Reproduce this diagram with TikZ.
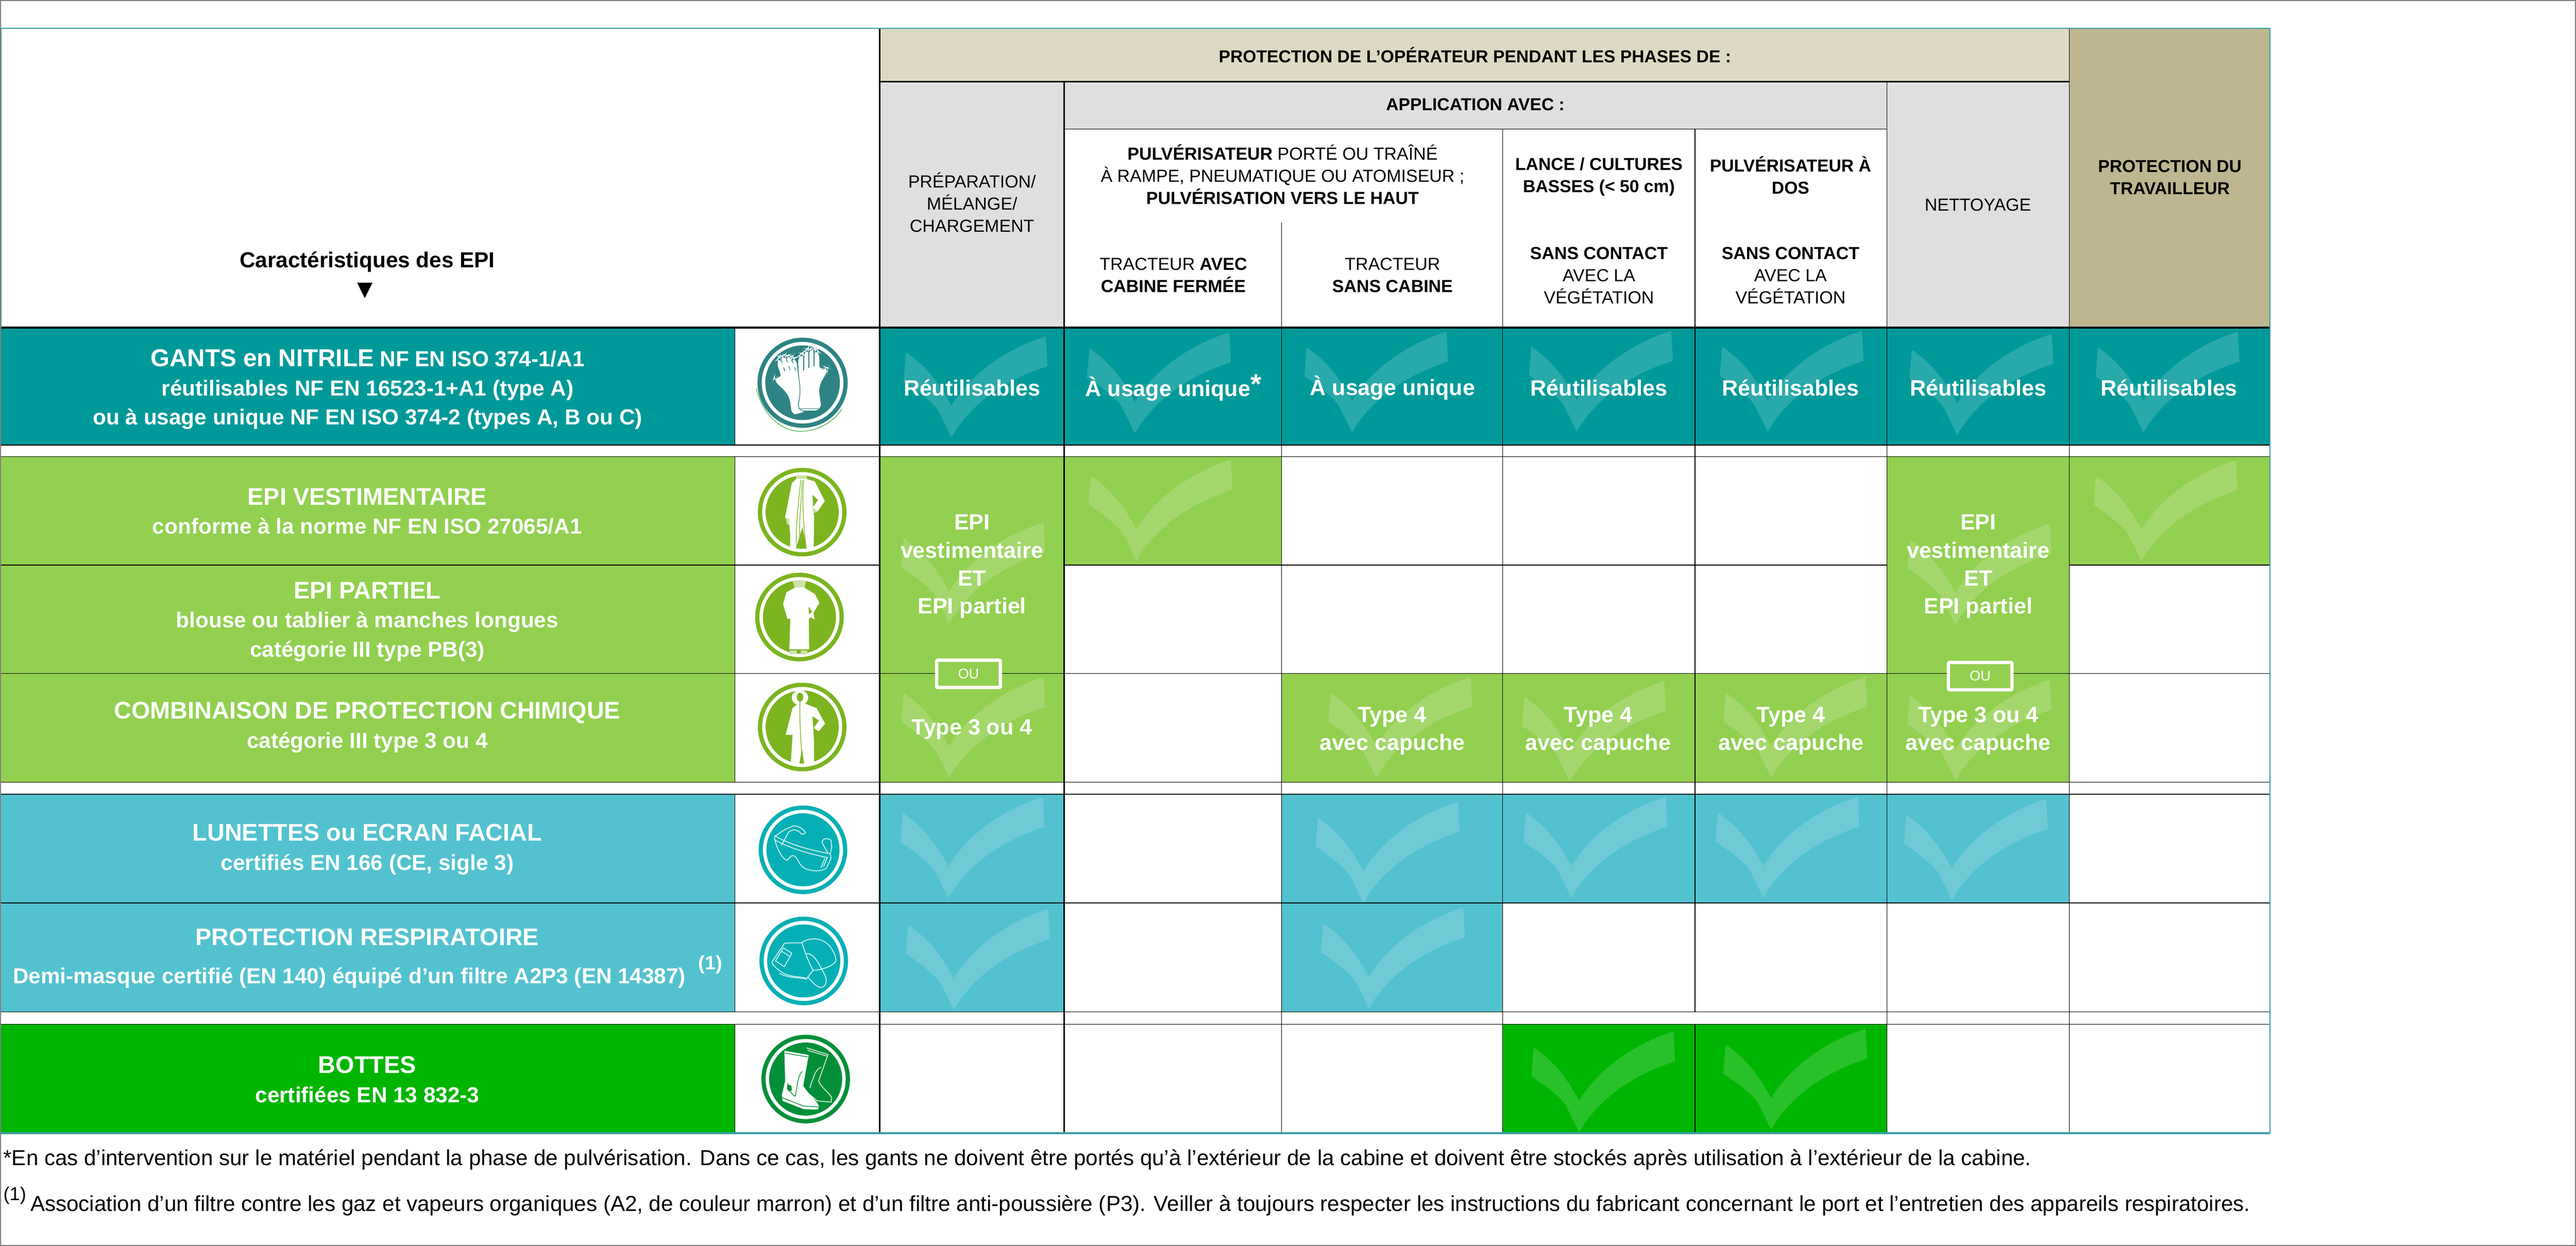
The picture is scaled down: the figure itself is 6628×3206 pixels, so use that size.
\documentclass[tikz,border=0pt]{standalone}
\usepackage{fontspec}
\setmainfont{Liberation Sans}
\newfontfamily\djv{DejaVu Sans}
\newcommand\fz[2]{\fontsize{\the\dimexpr#1pt*2845/10000\relax}{\the\dimexpr#2pt*2845/10000\relax}\selectfont}
\definecolor{cteal}{HTML}{009999}
\definecolor{cgreen}{HTML}{92D050}
\definecolor{cblue}{HTML}{53C2CF}
\definecolor{cboot}{HTML}{00B500}
\definecolor{ctan}{HTML}{DDD9C3}
\definecolor{ckhaki}{HTML}{BDB68F}
\definecolor{cgray}{HTML}{DFDFDF}
\definecolor{cframe}{HTML}{808080}
\definecolor{cedge}{HTML}{3A9FA6}
\definecolor{iteal}{HTML}{2E8384}
\definecolor{igreen}{HTML}{7CB41F}
\definecolor{iblue}{HTML}{04B0B5}
\definecolor{iboot}{HTML}{028F38}
\definecolor{ilight}{HTML}{CDE3A8}
\tikzset{
 x=0.01cm,y=-0.01cm,
 hd/.style={inner sep=0,align=center,text=black,font=\fz{45}{57}},
 hdb/.style={hd,font=\fz{44.6}{57}\bfseries},
 lbl/.style={inner sep=0,align=center,text=white,font=\fz{56}{75}\bfseries},
 val/.style={inner sep=0,align=center,text=white,font=\fz{57}{72}\bfseries},
 note/.style={inner sep=0,anchor=base west,text=black,font=\fz{55.8}{60}},
 gl/.style={line width=0.57pt,black},
 glb/.style={line width=1.14pt,black},
 oubox/.style={draw=white,line width=2.4pt,fill=cgreen,inner sep=0,text=white,font=\fz{36}{40},minimum width=4.65em,minimum height=2.0em,rounded corners=0.6pt},
}
\newcommand\chk[2]{\begin{scope}[shift={(#1,#2)},yscale=-0.95]
 \fill[white,opacity=.16] (-117,230) -- (-123,152) .. controls (-70,115) and (-40,85) .. (-34,72) .. controls (-20,45) and (-10,20) .. (0,0) .. controls (40,75) and (120,150) .. (247,192) -- (243,273) .. controls (170,250) and (60,190) .. (0,85) .. controls (-25,135) and (-60,190) .. (-117,230) -- cycle;
\end{scope}}
\newcommand\disk[5]{\fill[#1] (#2,#3) ellipse [x radius=#4,y radius=#5];
 \fill[white] (#2,#3) ellipse [x radius=#4-11,y radius=#5-11];
 \fill[#1] (#2,#3) ellipse [x radius=#4-20,y radius=#5-20];}
\begin{document}
\begin{tikzpicture}
\useasboundingbox (0,0) rectangle (6628,3206);
\fill[white] (0,0) rectangle (6628,3206);
% ---------- fills
\fill[ctan] (2264,73) rectangle (5324,210);
\fill[ckhaki] (5324,73) rectangle (5841,843);
\fill[cgray] (2264,210) rectangle (2738,843);
\fill[cgray] (2738,210) rectangle (4855,332);
\fill[cgray] (4855,210) rectangle (5324,843);
\fill[cteal] (0,843) rectangle (1891,1145);
\fill[cteal] (2264,843) rectangle (5841,1145);
\fill[cgreen] (0,1175) rectangle (1891,2013);
\fill[cgreen] (2264,1175) rectangle (2738,2013);
\fill[cgreen] (4855,1175) rectangle (5324,2013);
\fill[cgreen] (2738,1175) rectangle (3297,1454);
\fill[cgreen] (5324,1175) rectangle (5841,1454);
\fill[cgreen] (3297,1733) rectangle (4855,2013);
\fill[cblue] (0,2044) rectangle (1891,2604);
\fill[cblue] (2264,2044) rectangle (2738,2604);
\fill[cblue] (3297,2044) rectangle (3866,2604);
\fill[cblue] (3866,2044) rectangle (5324,2324);
\fill[cboot] (0,2636) rectangle (1891,2916);
\fill[cboot] (3866,2636) rectangle (4855,2916);
% ---------- check marks
\chk{2448}{1125}\chk{2920}{1115}\chk{3479}{1113}\chk{4057}{1111}\chk{4548}{1111}\chk{5036}{1119}\chk{5515}{1113}
\chk{2924}{1443}\chk{5510}{1444}
\chk{2442}{1604}\chk{2442}{2002}\chk{5031}{1607}\chk{5031}{2009}
\chk{3541}{2001}\chk{4039}{2012}\chk{4557}{2001}
\chk{2440}{2311}\chk{3508}{2323}\chk{4043}{2310}\chk{4537}{2310}\chk{5022}{2316}
\chk{2454}{2599}\chk{3522}{2595}
\chk{4063}{2914}\chk{4557}{2907}
% ---------- grid
\foreach \yy in {1145,1175,1733,2013,2044,2324,2604,2636} \draw[gl] (0,\yy) -- (5841,\yy);
\draw[gl] (0,1454) -- (2264,1454) (2738,1454) -- (4855,1454) (5324,1454) -- (5841,1454);
\draw[gl] (2738,332) -- (4855,332);
\draw[line width=1.4pt,black] (2264,210) -- (5324,210);
\draw[line width=1.4pt,black] (0,843) -- (5841,843);
\draw[gl] (1891,843) -- (1891,1145) (1891,1175) -- (1891,2013) (1891,2044) -- (1891,2604) (1891,2636) -- (1891,2916);
\draw[glb] (2264,73) -- (2264,2916);
\draw[glb] (2738,210) -- (2738,2916);
\draw[line width=0.4pt,black] (3297,573) -- (3297,2916);
\draw[gl] (3866,332) -- (3866,2916);
\draw[gl] (4361,332) -- (4361,2604) (4361,2636) -- (4361,2916);
\draw[gl] (4855,210) -- (4855,2916);
\draw[gl] (5324,73) -- (5324,2916);
% ---------- table edge and page frame
\draw[cedge,line width=1pt] (0,73) -- (5841,73);
\draw[cedge,line width=0.8pt] (2,73) -- (2,843);
\draw[cedge,line width=0.8pt] (5841,73) -- (5841,2916);
\draw[cedge,line width=1.7pt] (0,2916) -- (5841,2916);
\draw[cframe,line width=0.8pt] (1,1) rectangle (6627,3205);
% ---------- headers
\node[hdb] (h1) at (3795,141) {PROTECTION DE L'OPÉRATEUR PENDANT LES PHASES DE :};
\node[hdb] (h2) at (3796,269) {APPLICATION AVEC :};
\node[hd] (h3) at (2501,521) {PRÉPARATION/\\MÉLANGE/\\CHARGEMENT};
\node[hd] (h4) at (5089,527) {NETTOYAGE};
\node[hdb] (h5) at (5583,457) {PROTECTION DU\\TRAVAILLEUR};
\node[hd] (h6) at (3300,449) {\textbf{PULVÉRISATEUR} PORTÉ OU TRAÎNÉ\\À RAMPE, PNEUMATIQUE OU ATOMISEUR ;\\\textbf{PULVÉRISATION VERS LE HAUT}};
\node[hd] (h7) at (3019,708) {TRACTEUR \textbf{AVEC}\\\textbf{CABINE FERMÉE}};
\node[hd] (h8) at (3583,708) {TRACTEUR\\\textbf{SANS CABINE}};
\node[hdb] (h9) at (4114,455) {LANCE / CULTURES\\BASSES (< 50 cm)};
\node[hdb] (h10) at (4607,451) {PULVÉRISATEUR À\\DOS};
\node[hd] (h11) at (4114,709) {\textbf{SANS CONTACT}\\AVEC LA\\VÉGÉTATION};
\node[hd] (h12) at (4607,709) {\textbf{SANS CONTACT}\\AVEC LA\\VÉGÉTATION};
\node[inner sep=0,font=\fz{56}{70}\bfseries] (car) at (945,674) {Caractéristiques des EPI};
\node[inner sep=0,font=\fz{52}{70}\djv] (arr) at (939,748) {▼};
% ---------- left labels
\node[lbl] (l1) at (946,1002) {{\fz{63}{75}GANTS en NITRILE} NF EN ISO 374-1/A1\\réutilisables NF EN 16523-1+A1 (type A)\\ou à usage unique NF EN ISO 374-2 (types A, B ou C)};
\node[lbl] (l2) at (945,1316) {{\fz{62}{75}EPI VESTIMENTAIRE}\\conforme à la norme NF EN ISO 27065/A1};
\node[lbl] (l3) at (945,1600) {{\fz{62}{75}EPI PARTIEL}\\blouse ou tablier à manches longues\\catégorie III type PB(3)};
\node[lbl] (l4) at (945,1872) {{\fz{62}{75}COMBINAISON DE PROTECTION CHIMIQUE}\\catégorie III type 3 ou 4};
\node[lbl] (l5) at (945,2186) {{\fz{62}{75}LUNETTES ou ECRAN FACIAL}\\certifiés EN 166 (CE, sigle 3)};
\node[lbl,font=\fz{62}{75}\bfseries] (l6) at (945,2412) {PROTECTION RESPIRATOIRE};
\node[lbl] (l6b) at (899,2517) {Demi-masque certifié (EN 140) équipé d'un filtre A2P3 (EN 14387)};
\node[lbl,font=\fz{50}{50}\bfseries] (l6c) at (1828,2482) {(1)};
\node[lbl] (l7) at (945,2778) {{\fz{62}{75}BOTTES}\\certifiées EN 13 832-3};
% ---------- value cells
\node[val] (v1) at (2501,998) {Réutilisables};
\node[val] (v2) at (3019,998) {À usage unique\raisebox{0.12em}{\fz{72}{72}*}};
\node[val] (v3) at (3583,998) {À usage unique};
\node[val] (v4) at (4114,998) {Réutilisables};
\node[val] (v5) at (4607,998) {Réutilisables};
\node[val] (v6) at (5090,998) {Réutilisables};
\node[val] (v7) at (5581,998) {Réutilisables};
\node[val] (e1) at (2501,1458) {EPI\\vestimentaire\\ET\\EPI partiel};
\node[val] (e2) at (5090,1458) {EPI\\vestimentaire\\ET\\EPI partiel};
\node[val] (t1) at (2501,1877) {Type 3 ou 4};
\node[val] (t2) at (5090,1881) {Type 3 ou 4\\avec capuche};
\node[val] (t3) at (3582,1881) {Type 4\\avec capuche};
\node[val] (t4) at (4112,1881) {Type 4\\avec capuche};
\node[val] (t5) at (4608,1881) {Type 4\\avec capuche};
% ---------- OU boxes
\node[oubox] (o1) at (2492,1734) {OU};
\node[oubox] (o2) at (5095,1740) {OU};
% ---------- footnotes
\node[note] (n1) at (8,2999) {*En cas d'intervention sur le matériel pendant la phase de pulvérisation. Dans ce cas, les gants ne doivent être portés qu'à l'extérieur de la cabine et doivent être stockés après utilisation à l'extérieur de la cabine.};
\node[note] (n2) at (8,3117) {\raisebox{8pt}{\fz{48}{50}(1)}\hspace{0.2em}Association d'un filtre contre les gaz et vapeurs organiques (A2, de couleur marron) et d'un filtre anti-poussière (P3). Veiller à toujours respecter les instructions du fabricant concernant le port et l'entretien des appareils respiratoires.};
% ---------- icon: gloves
\disk{iteal}{2065}{985}{116}{116}
\draw[green!55!black!80,line width=0.4pt] (1946,1000) .. controls (1965,1075) and (2015,1110) .. (2060,1110) .. controls (2105,1110) and (2145,1085) .. (2166,1053);
\begin{scope}[shift={(1930,850)},scale=0.338]
 \fill[white,rounded corners=5pt] (320,655) -- (298,495) -- (175,375) -- (185,345) -- (245,375) -- (197,228) -- (218,205) -- (233,222) -- (232,195) -- (255,185) -- (275,215) -- (275,190) -- (295,185) -- (318,222) -- (325,205) -- (350,205) -- (362,320) -- (382,465) -- (355,610) -- (435,620) -- cycle;
 \fill[white,rounded corners=5pt] (362,612) -- (387,465) -- (368,320) -- (365,195) -- (385,180) -- (407,195) -- (408,160) -- (428,148) -- (447,160) -- (447,145) -- (467,133) -- (487,150) -- (490,160) -- (510,148) -- (527,165) -- (527,315) -- (570,275) -- (595,285) -- (590,310) -- (520,430) -- (545,610) -- cycle;
 \draw[iteal,line width=0.5pt] (408,195) -- (408,305) (447,160) -- (447,285) (487,150) -- (487,275) (365,597) -- (540,597);
 \draw[iteal,line width=0.5pt,dashed] (235,222) -- (268,325) (275,215) -- (310,320) (318,222) -- (352,320);
 \draw[iteal,line width=0.6pt] (330,645) -- (430,622);
\end{scope}
% ---------- icon: coverall
\disk{igreen}{2064}{1318}{114}{114}
\begin{scope}[shift={(1800,1100)},scale=0.638]
 \fill[ilight] (388,193) rectangle (432,212);
 \fill[white] (390,208) -- (432,208) -- (465,218) -- (505,297) -- (475,340) -- (458,322) -- (478,292) -- (455,272) -- (462,370) -- (460,490) -- (432,490) -- (415,400) -- (388,490) -- (365,490) -- (365,430) -- (362,392) -- (345,362) -- (372,225) -- cycle;
 \fill[ilight] (348,365) -- (362,368) -- (362,394) -- (352,390) -- cycle;
 \fill[ilight] (456,322) -- (475,338) -- (468,344) -- (455,340) -- cycle;
 \draw[igreen,line width=0.45pt] (408,212) .. controls (400,300) and (385,400) .. (392,490) (414,212) .. controls (412,300) and (395,400) .. (408,490) (420,212) .. controls (412,300) and (420,400) .. (430,490);
\end{scope}
% ---------- icon: blouse
\disk{igreen}{2057}{1588}{114}{114}
\begin{scope}[shift={(1800,1100)},scale=0.638]
 \fill[ilight] (375,618) -- (430,618) -- (422,652) -- (385,652) -- cycle;
 \fill[white] (387,645) -- (420,645) -- (465,672) -- (483,708) -- (458,750) -- (440,722) -- (442,895) -- (362,895) -- (366,772) -- (354,772) -- (337,712) -- (350,665) -- cycle;
 \fill[white] (422,765) -- (458,742) -- (464,775) -- (448,765) -- (440,775) -- cycle;
 \fill[ilight] (364,900) -- (392,900) -- (392,915) -- (364,915) -- cycle (408,900) -- (434,900) -- (434,915) -- (408,915) -- cycle;
\end{scope}
% ---------- icon: chemical suit
\disk{igreen}{2064}{1871}{114}{114}
\begin{scope}[shift={(1800,1100)},scale=0.638]
 \fill[white] (405,1090) ellipse [x radius=33,y radius=30];
 \fill[white] (375,1132) -- (392,1118) -- (420,1112) -- (472,1132) -- (506,1195) -- (480,1226) -- (460,1212) -- (482,1182) -- (455,1165) -- (462,1270) -- (462,1352) -- (422,1358) -- (413,1295) -- (402,1358) -- (368,1352) -- (375,1240) -- (347,1240) -- cycle;
 \fill[igreen] (405,1088) ellipse [x radius=13,y radius=18];
 \draw[igreen,line width=0.5pt] (405,1106) .. controls (402,1180) and (410,1280) .. (414,1350);
\end{scope}
% ---------- icon: goggles
\disk{iblue}{2066}{2187}{114}{114}
\begin{scope}[shift={(1800,2000)},xscale=0.638,yscale=0.606,white,line width=0.5pt]
 \draw (302,252) .. controls (305,290) and (330,345) .. (352,353) .. controls (365,345) and (365,332) .. (378,333) .. controls (400,340) and (395,375) .. (430,390) .. controls (460,402) and (500,400) .. (512,385) -- (530,345) -- (527,322);
 \draw (305,250) .. controls (370,290) and (450,310) .. (525,325);
 \draw (302,266) .. controls (370,305) and (450,328) .. (518,342);
 \draw (302,252) -- (345,222) -- (378,207) .. controls (400,205) and (425,225) .. (427,238) -- (412,243) .. controls (400,225) and (375,215) .. (358,235) -- (330,290);
 \draw (517,322) -- (495,280) .. controls (490,262) and (515,255) .. (530,268) -- (533,300) -- (527,322);
 \draw (500,380) -- (515,340) (490,385) -- (505,345);
\end{scope}
% ---------- icon: half mask
\disk{iblue}{2068}{2473}{114}{114}
\begin{scope}[shift={(1800,2000)},xscale=0.638,yscale=0.606,white,line width=0.5pt]
 \draw (343,705) -- (412,703) .. controls (425,740) and (440,790) .. (458,820) -- (432,855) .. controls (390,840) and (350,860) .. (295,795) -- (292,785) -- cycle;
 \draw (338,725) -- (372,748) -- (342,805) -- (306,780) -- cycle;
 \draw (332,740) -- (362,760);
 \draw (412,703) .. controls (440,680) and (490,680) .. (520,712) .. controls (540,735) and (555,770) .. (548,785) .. controls (530,805) and (490,820) .. (458,820);
 \draw (430,750) .. controls (460,745) and (480,790) .. (500,830) .. controls (520,865) and (510,895) .. (485,893) .. controls (465,885) and (450,865) .. (438,850);
 \draw (322,833) .. controls (360,855) and (400,850) .. (432,858);
\end{scope}
% ---------- icon: boots
\disk{iboot}{2073}{2777}{114}{114}
\begin{scope}[shift={(1800,2000)},xscale=0.638,yscale=0.606,white,line width=0.5pt]
 \draw (432,1150) -- (518,1178) -- (480,1290) .. controls (490,1320) and (525,1340) .. (533,1362) -- (530,1380) -- (475,1375) -- (415,1322);
 \draw (436,1160) -- (515,1185);
 \draw (490,1232) .. controls (465,1240) and (460,1280) .. (450,1300) -- (445,1320);
 \fill (342,1162) -- (440,1180) -- (418,1310) .. controls (440,1350) and (475,1375) .. (480,1395) -- (478,1412) -- (420,1410) -- (335,1375) -- (332,1350) -- (345,1290) -- cycle;
 \draw[iboot] (345,1172) -- (436,1188);
 \draw[iboot] (415,1250) .. controls (395,1260) and (395,1320) .. (385,1355) .. controls (370,1350) and (360,1320) .. (355,1300);
 \fill[iboot] (355,1305) -- (370,1310) -- (372,1330) -- (360,1335) -- (352,1322) -- cycle;
 \draw[iboot] (335,1362) -- (420,1397) -- (478,1400);
\end{scope}
\end{tikzpicture}
\end{document}
